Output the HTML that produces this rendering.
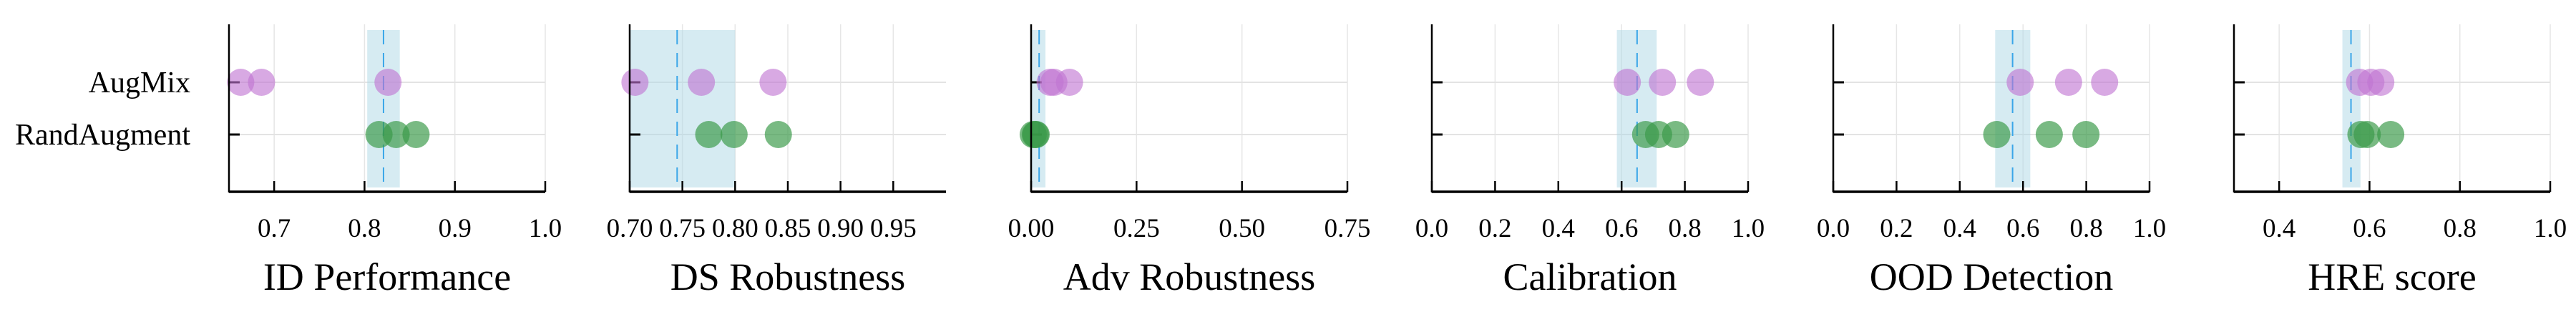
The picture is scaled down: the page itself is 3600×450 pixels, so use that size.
<!DOCTYPE html>
<html><head><meta charset="utf-8"><style>
html,body{margin:0;padding:0;background:#fff;}
svg{display:block;font-family:"Liberation Serif",serif;}
</style></head><body>
<svg id="chart" width="3600" height="450" viewBox="0 0 3600 450" xmlns="http://www.w3.org/2000/svg"></svg>
<script>
const methods = ["AugMix","RandAugment"];
const panelTitles = ["ID Performance","DS Robustness","Adv Robustness","Calibration","OOD Detection","HRE score"];
const augmixValues = [[0.663,0.686,0.826],[0.705,0.768,0.836],[0.045,0.054,0.091],[0.618,0.729,0.849],[0.591,0.744,0.858],[0.578,0.603,0.625]];
const randaugValues = [[0.816,0.835,0.857],[0.775,0.799,0.841],[0.005,0.010,0.012],[0.676,0.717,0.771],[0.517,0.683,0.799],[0.581,0.595,0.647]];
const meanValues = [0.821,0.745,0.019,0.649,0.567,0.559];
const bandLow = [0.803,0.70,0.0,0.585,0.512,0.54];
const bandHigh = [0.839,0.80,0.034,0.711,0.623,0.58];
const axisMin = [0.65,0.70,0.0,0.0,0.0,0.3];
const axisMax = [1.0,1.0,0.75,1.0,1.0,1.0];
const tickValues = [[0.7,0.8,0.9,1.0],[0.70,0.75,0.80,0.85,0.90,0.95],[0,0.25,0.5,0.75],[0,0.2,0.4,0.6,0.8,1.0],[0,0.2,0.4,0.6,0.8,1.0],[0.4,0.6,0.8,1.0]];
const tickLabels = [["0.7","0.8","0.9","1.0"],["0.70","0.75","0.80","0.85","0.90","0.95"],["0.00","0.25","0.50","0.75"],["0.0","0.2","0.4","0.6","0.8","1.0"],["0.0","0.2","0.4","0.6","0.8","1.0"],["0.4","0.6","0.8","1.0"]];

const NS="http://www.w3.org/2000/svg";
const svg=document.getElementById('chart');
const panelLeft=[320,880,1441,2001,2562,3122];
const W=442, plotTop=34, plotBottom=268, rowY=[115,188];
function mk(tag,attrs,parent){const e=document.createElementNS(NS,tag);for(const k in attrs)e.setAttribute(k,attrs[k]);(parent||svg).appendChild(e);return e;}

methods.forEach((m,i)=>{
  const t=mk('text',{x:266,y:rowY[i]+14,'text-anchor':'end','font-size':42,fill:'#000'});
  t.textContent=m;
  
  
});

panelTitles.forEach((title,p)=>{
  const g=mk('g',{});
  
  
  const L=panelLeft[p];
  const xs=v=>L+(v-axisMin[p])/(axisMax[p]-axisMin[p])*W;
  tickValues[p].forEach(v=>{mk('line',{x1:xs(v),x2:xs(v),y1:plotTop,y2:plotBottom,stroke:'#e6e6e6','stroke-width':1.5},g);});
  rowY.forEach(y=>{mk('line',{x1:L,x2:L+W,y1:y,y2:y,stroke:'#e3e3e3','stroke-width':2},g);});
  const b=mk('rect',{x:xs(bandLow[p]),y:42,width:xs(bandHigh[p])-xs(bandLow[p]),height:220,fill:'#add8e6','fill-opacity':0.5},g);
  
  
  const d=mk('line',{x1:xs(meanValues[p]),x2:xs(meanValues[p]),y1:42,y2:264,stroke:'#3aa6e8','stroke-width':2,'stroke-dasharray':'20,12'},g);
  
  
  rowY.forEach(y=>{mk('line',{x1:L,x2:L+15,y1:y,y2:y,stroke:'#000','stroke-width':3},g);});
  [augmixValues,randaugValues].forEach((arr,i)=>{
    arr[p].forEach(v=>{
      const c=mk('ellipse',{cx:xs(v),cy:rowY[i],rx:19,ry:19,fill:i==0?'#c074d2':'#3a9a48','fill-opacity':i==0?0.62:0.68},g);
      
      
    });
  });
  mk('line',{x1:L,x2:L,y1:plotTop,y2:plotBottom+1,stroke:'#000','stroke-width':2.5},g);
  mk('line',{x1:L,x2:L+W,y1:plotBottom,y2:plotBottom,stroke:'#000','stroke-width':3.5},g);
  tickValues[p].forEach((v,k)=>{
    mk('line',{x1:xs(v),x2:xs(v),y1:plotBottom,y2:plotBottom-15,stroke:'#000','stroke-width':2.5},g);
    const t=mk('text',{x:xs(v),y:331,'text-anchor':'middle','font-size':37,fill:'#000'},g);
    t.textContent=tickLabels[p][k];
    
    
  });
  const tt=mk('text',{x:L+W/2,y:405,'text-anchor':'middle','font-size':54,fill:'#000'},g);
  tt.textContent=title;
  
  
});
</script>
</body></html>
